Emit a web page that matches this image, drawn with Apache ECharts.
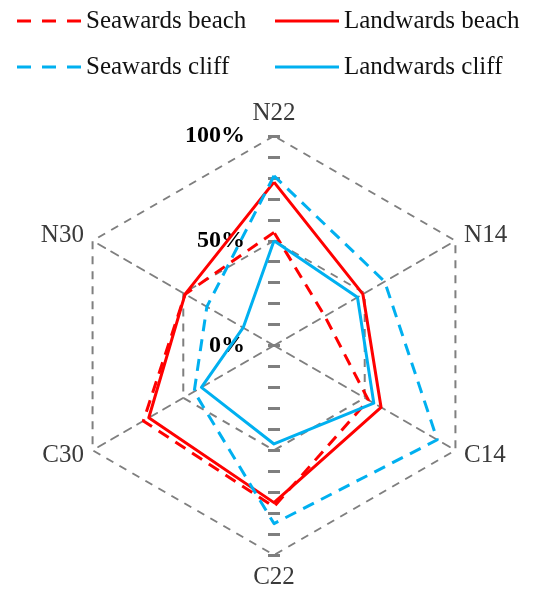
<!DOCTYPE html>
<html>
<head>
<meta charset="utf-8">
<script src="https://cdn.jsdelivr.net/npm/echarts@6/dist/echarts.min.js"></script>
<style>
  html, body { margin: 0; padding: 0; background: #ffffff; }
  #chart { width: 549px; height: 594px; }
</style>
</head>
<body>
<div id="chart"></div>
<script>
// Radar axes, listed counter-clockwise from the top (ECharts' layout order).
const categories = ['N22', 'N30', 'C30', 'C22', 'C14', 'N14'];

// Percentages per axis, same order as categories.
const seawardsBeach  = [54, 49, 72, 77, 52, 28];
const landwardsBeach = [78, 49, 69, 75, 59, 49];
const seawardsCliff  = [81, 37, 44, 85, 90, 61];
const landwardsCliff = [50, 17, 40, 47, 55, 46];

// Value axis labels and minor tick step (percent).
const valueLabels = [0, 50, 100];
const minorStep = 10;

const RED = '#ff0000';
const BLUE = '#00b0f0';
const GRAY = '#7f7f7f';
const SERIF = '"Liberation Serif", "Times New Roman", serif';

const axisMax = valueLabels[valueLabels.length - 1];
const CENTER = [274, 345.5];
const RADIUS = 209.5;
const TICK_LEN = 12;

const DASHED_ICON = 'path://M0,0H14V3H0Z M25,0H39V3H25Z M50,0H64V3H50Z';
const SOLID_ICON = 'path://M0,0H64V3H0Z';

const seriesDefs = [
  { name: 'Seawards beach',  values: seawardsBeach,  color: RED,  dashed: true },
  { name: 'Landwards beach', values: landwardsBeach, color: RED,  dashed: false },
  { name: 'Seawards cliff',  values: seawardsCliff,  color: BLUE, dashed: true },
  { name: 'Landwards cliff', values: landwardsCliff, color: BLUE, dashed: false }
];

// Helper radar with no grid, used for spokes, ticks and value labels.
function helperRadar(count, startAngle, extra) {
  const indicator = [];
  for (let i = 0; i < count; i++) indicator.push({ name: '', min: 0, max: axisMax });
  return Object.assign({
    center: CENTER,
    radius: RADIUS,
    startAngle: startAngle,
    indicator: indicator,
    axisName: { show: false },
    splitLine: { show: false },
    splitArea: { show: false },
    axisLine: { show: false },
    axisTick: { show: false },
    axisLabel: { show: false },
    silent: true
  }, extra);
}

const spokeLine = { show: true, lineStyle: { color: GRAY, width: 2, type: [8, 7] } };
const tickStyle = { color: GRAY, width: 3 };

// Cross ticks: each half-axis draws its ticks to one side, so shift its
// centre by half a tick length to make the ticks straddle the axis.
function tickRadar(startAngle, shiftX) {
  return helperRadar(1, startAngle, {
    center: [CENTER[0] + shiftX, CENTER[1]],
    splitNumber: axisMax / minorStep,
    axisTick: { show: true, length: TICK_LEN, inside: false, lineStyle: tickStyle }
  });
}

const radars = [
  // Main radar: rings, category names, data
  {
    center: CENTER,
    radius: RADIUS,
    startAngle: 90,
    splitNumber: valueLabels.length - 1,
    indicator: categories.map(c => ({ name: c, min: 0, max: axisMax })),
    axisName: { color: '#3a3a3a', fontSize: 25, fontFamily: SERIF },
    nameGap: 10,
    splitLine: { show: true, lineStyle: { color: GRAY, width: 2, type: [8, 7] } },
    splitArea: { show: false },
    axisLine: { show: false },
    axisTick: { show: false },
    axisLabel: { show: false }
  },
  // Diagonal spokes
  helperRadar(2, 30, { axisLine: spokeLine }),
  helperRadar(2, 150, { axisLine: spokeLine }),
  // Ticks along the vertical axis, upper and lower halves
  tickRadar(90, TICK_LEN / 2),
  tickRadar(270, -TICK_LEN / 2),
  // Value labels on the upper axis
  helperRadar(1, 90, {
    splitNumber: valueLabels.length - 1,
    axisLabel: {
      show: true, margin: 29, color: '#000000', fontSize: 24, fontWeight: 'bold', fontFamily: SERIF,
      formatter: v => v + '%'
    }
  })
];

const series = seriesDefs.map(s => ({
  type: 'radar',
  radarIndex: 0,
  name: s.name,
  symbol: 'none',
  itemStyle: { color: s.color },
  lineStyle: { color: s.color, width: 3, type: s.dashed ? [12, 8] : 'solid' },
  data: [{ name: s.name, value: s.values }]
}));

function legendColumn(left, names) {
  return {
    orient: 'vertical',
    left: left,
    top: 1,
    itemWidth: 64,
    itemHeight: 3,
    itemGap: 16,
    textStyle: { color: '#111111', fontSize: 25, fontFamily: SERIF, lineHeight: 30 },
    data: names.map(n => {
      const def = seriesDefs.find(d => d.name === n);
      return { name: n, icon: def.dashed ? DASHED_ICON : SOLID_ICON };
    })
  };
}

const chart = echarts.init(document.getElementById('chart'), null, { renderer: 'canvas' });
chart.setOption({
  animation: false,
  backgroundColor: '#ffffff',
  legend: [
    legendColumn(12, ['Seawards beach', 'Seawards cliff']),
    legendColumn(270, ['Landwards beach', 'Landwards cliff'])
  ],
  radar: radars,
  series: series
});
</script>
</body>
</html>
